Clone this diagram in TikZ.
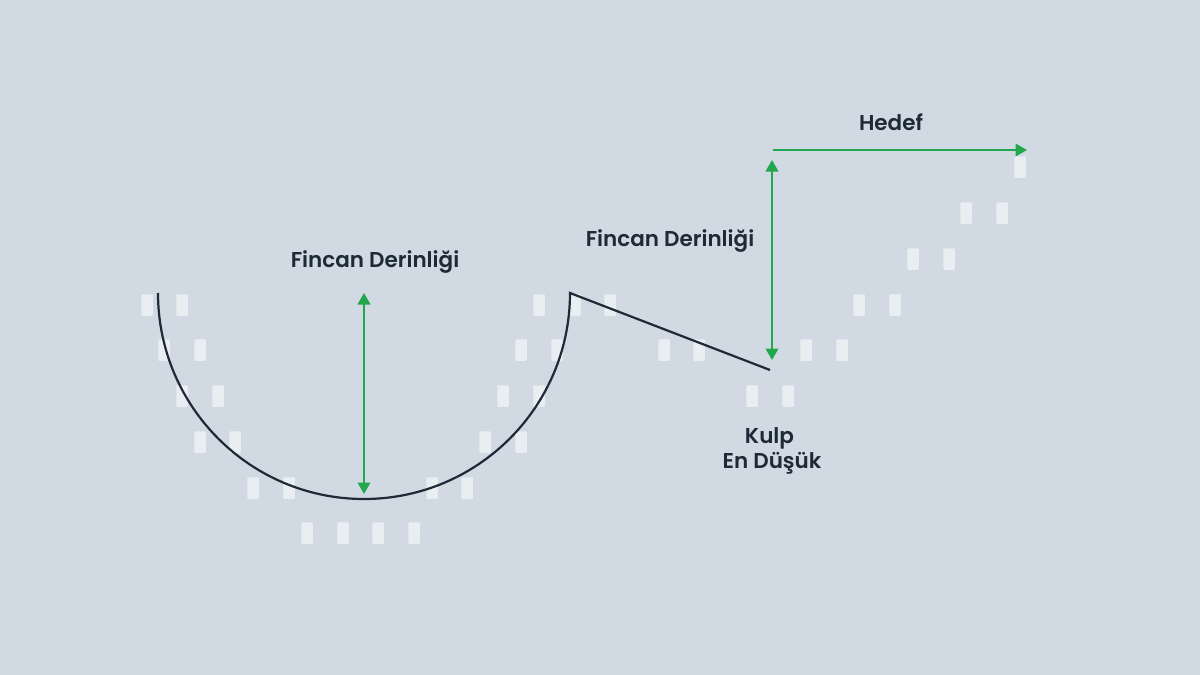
\documentclass[tikz,border=0pt]{standalone}
\usepackage{fontspec}
\setmainfont{Poppins SemiBold}
\usetikzlibrary{arrows.meta}
\definecolor{bgcolor}{HTML}{D1D9E2}
\definecolor{candlecolor}{HTML}{E9EEF2}
\definecolor{linecolor}{HTML}{1E2A38}
\definecolor{arrowcolor}{HTML}{22A650}
\tikzset{
    candle/.style={fill=candlecolor,draw=none,minimum width=11.5pt,minimum height=21.5pt,inner sep=0pt,rounded corners=0.8pt},
    cupline/.style={draw=linecolor,line width=2.2pt},
    measure/.style={draw=arrowcolor,line width=2.2pt,>={Triangle[length=11.5pt,width=12.5pt]}},
    label/.style={text=linecolor,font=\fontsize{21.5}{25}\selectfont,align=center,inner sep=0pt},
}
\begin{document}
\begin{tikzpicture}[x=1pt,y=-1pt]
    \fill[bgcolor] (0,0) rectangle (1200,675);
    \useasboundingbox (0,0) rectangle (1200,675);

    % Candles
    \foreach \cx/\cy in {147/305,182/305,164/350,200/350,182/396,218/396,200/442,235/442,
                         253/488,289/488,307/533,343/533,378/533,414/533,432/488,467/488,
                         485/442,521/442,503/396,539/396,521/350,557/350,539/305,575/305,610/305,
                         664/350,699/350,752/396,788/396,806/350,842/350,859/305,895/305,
                         913/259,949/259,966/213,1002/213,1020/167}
        \node[candle] (c\cx-\cy) at (\cx,\cy) {};

    \coordinate (CupL) at (158,293);
    \coordinate (CupR) at (570,293);
    \coordinate (HandleEnd) at (770,370);
    \coordinate (DepthTop) at (364,293);
    \coordinate (DepthBot) at (364,494);
    \coordinate (RiseBot) at (772,360);
    \coordinate (RiseTop) at (772,160);
    \coordinate (GoalL) at (773,150);
    \coordinate (GoalR) at (1027,150);

    % Cup and handle
    \draw[cupline] (CupL) arc[start angle=180,end angle=360,radius=206pt] -- (HandleEnd);

    % Arrows
    \draw[measure,<->] (DepthTop) -- (DepthBot);
    \draw[measure,<->] (RiseTop) -- (RiseBot);
    \draw[measure,->] (GoalL) -- (GoalR);

    % Labels
    \node[label] (cupdepth) at (375,262) {Fincan Derinliği};
    \node[label] (risedepth) at (670,241) {Fincan Derinliği};
    \node[label] (goal) at (891,122) {Hedef};
    \node[label] (handlelow) at (772,451) {Kulp\hspace*{5pt}\\En Düşük};
\end{tikzpicture}
\end{document}
